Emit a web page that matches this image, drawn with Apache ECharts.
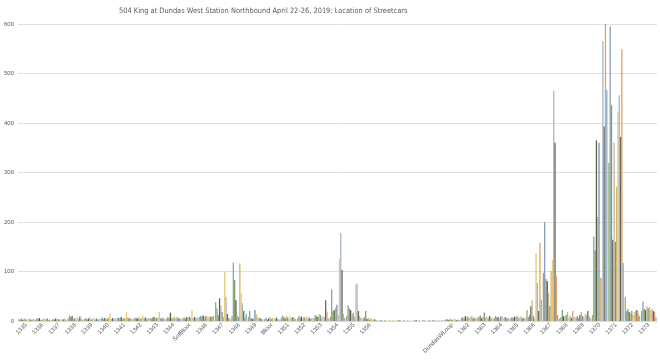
<!DOCTYPE html>
<html>
<head>
<meta charset="utf-8">
<script src="https://cdn.jsdelivr.net/npm/echarts@6/dist/echarts.min.js"></script>
<style>html,body{margin:0;padding:0;background:#fff}#c{width:660px;height:362px}</style>
</head>
<body>
<div id="c"></div>
<script>
const categories = ['1335','1336','1337','1338','1339','1340','1341','1342','1343','1344','SofBloor','1346','1347','1348','1349','Bloor','1351','1352','1353','1354','1355','1356','1357','1358','1359','1360','DundasWLoop','1362','1363','1364','1365','1366','1367','1368','1369','1370','1371','1372','1373'];
const tickLabels = ['1335','1336','1337','1338','1339','1340','1341','1342','1343','1344','SofBloor','1346','1347','1348','1349','Bloor','1351','1352','1353','1354','1355','1356','','','','','DundasWLoop','1362','1363','1364','1365','1366','1367','1368','1369','1370','1371','1372','1373'];
const yTicks = [0,100,200,300,400,500,600];

const run1  = [4,3,2,5,4,5,6,4,6,5,6,8,38,10,8,4,6,5,6,8,10,5,1,1,0,1,2,6,7,6,5,22,97,5,8,12,319,48,20];
const run2  = [3,5,4,11,6,7,7,7,5,8,7,10,26,118,20,6,11,10,12,64,32,8,2,0,1,2,4,8,9,10,8,8,200,8,10,170,595,20,39];
const run3  = [5,4,3,8,3,4,5,6,7,6,5,9,12,83,6,3,8,7,10,19,26,20,1,2,1,0,3,5,11,7,6,12,85,22,6,143,436,24,25];
const run4  = [2,6,5,10,5,6,8,5,8,17,8,11,46,42,4,5,5,9,8,22,22,4,0,1,2,1,2,10,6,8,9,30,81,10,12,365,164,18,22];
const run5  = [6,3,2,4,7,3,4,8,5,7,6,8,32,12,5,8,10,4,14,27,12,6,2,1,0,2,5,7,8,5,7,42,57,6,18,210,360,15,30];
const run6  = [3,2,4,6,3,5,6,4,6,5,9,10,18,8,22,4,7,8,12,33,16,3,1,0,1,1,3,9,17,9,10,10,30,12,10,360,160,20,26];
const run7  = [4,5,3,3,4,7,5,6,7,9,7,9,8,116,14,6,4,6,6,12,8,6,0,2,1,0,2,6,7,10,6,5,101,18,8,87,271,12,28];
const run8  = [2,4,2,7,6,15,18,11,18,6,22,7,100,56,8,3,9,10,10,125,73,2,1,1,0,2,4,8,9,6,8,137,123,8,15,88,423,18,22];
const run9  = [5,3,4,5,2,4,7,5,6,8,6,10,49,36,5,5,6,5,8,178,76,4,2,0,2,1,3,10,6,8,9,77,465,10,12,565,456,20,24];
const run10 = [3,5,3,9,5,6,5,7,5,5,8,8,14,20,6,7,8,7,42,103,20,3,0,1,1,0,2,5,10,7,5,20,360,6,20,393,372,22,20];
const run11 = [2,2,5,4,3,3,6,4,7,7,5,9,6,8,4,4,5,4,19,14,10,2,1,0,1,2,3,7,8,5,7,158,90,20,10,600,549,15,18];
const run12 = [4,3,2,3,4,5,4,6,4,4,7,10,5,14,3,3,4,6,5,6,6,1,1,1,0,1,2,6,5,6,6,42,12,8,6,466,117,10,8];

const runs = [run1,run2,run3,run4,run5,run6,run7,run8,run9,run10,run11,run12];
const colors = ['#8FB06F','#8A9FB8','#7AA566','#5E5E45','#C9B48A','#7891AE','#D4B36A','#E6C86E','#A3B8CC','#66665A','#E3A066','#86AED4'];

const chart = echarts.init(document.getElementById('c'), null, {renderer:'canvas'});
chart.setOption({
  animation: false,
  backgroundColor: '#fff',
  title: {
    text: '504 King at Dundas West Station Northbound April 22-26, 2019: Location of Streetcars',
    left: 114, top: 3,
    textStyle: {fontSize: 7.4, fontWeight: 'normal', color: '#595959', fontFamily: 'Liberation Sans Narrow, DejaVu Sans Condensed, sans-serif'}
  },
  grid: {left: 18, right: 3, top: 24, bottom: 41, containLabel: false},
  xAxis: {
    type: 'category',
    data: categories,
    axisTick: {show: false},
    axisLine: {lineStyle: {color: '#d9d9d9'}},
    axisLabel: {
      interval: 0, rotate: 45, fontSize: 6, color: '#595959', margin: 3,
      fontFamily: 'Liberation Sans Narrow, sans-serif',
      formatter: (v, i) => tickLabels[i]
    }
  },
  yAxis: {
    type: 'value', min: yTicks[0], max: yTicks[yTicks.length-1], interval: 100,
    axisLine: {show: false}, axisTick: {show: false},
    axisLabel: {fontSize: 6, color: '#595959', margin: 4, fontFamily: 'Liberation Sans Narrow, sans-serif'},
    splitLine: {lineStyle: {color: '#e0e0e0', width: 1}}
  },
  series: runs.map((d, k) => ({
    type: 'bar', name: 'Run ' + (k+1), data: d,
    barGap: '0%', barCategoryGap: '5%',
    itemStyle: {color: colors[k]}, silent: true
  }))
});
</script>
</body>
</html>
